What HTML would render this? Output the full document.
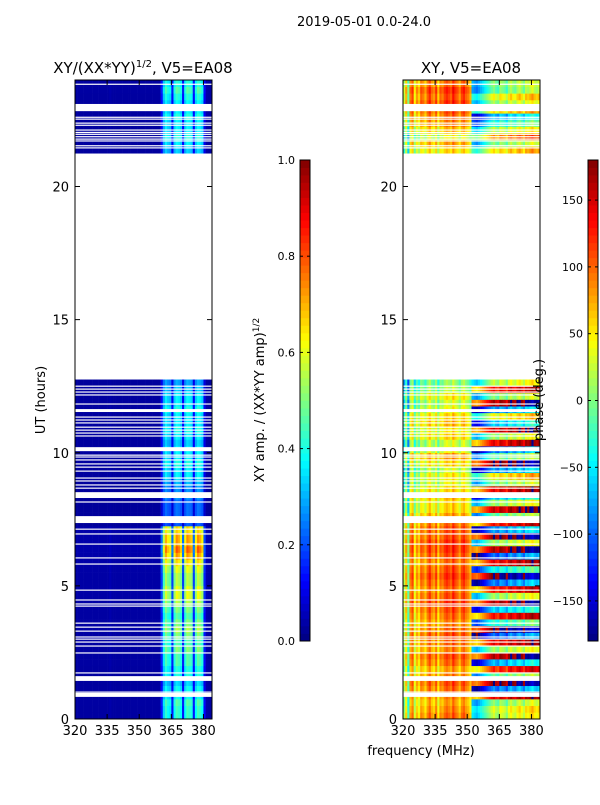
<!DOCTYPE html>
<html><head><meta charset="utf-8">
<style>
html,body{margin:0;padding:0;background:#fff;}
body{width:600px;height:800px;overflow:hidden;font-family:"Liberation Sans","DejaVu Sans",sans-serif;}
svg text{font-family:"DejaVu Sans","Liberation Sans",sans-serif;}
</style></head>
<body>
<svg id="chart" width="600" height="800" xmlns="http://www.w3.org/2000/svg">
<g id="layer"></g>
<text x="364" y="26" font-size="13" text-anchor="middle">2019-05-01 0.0-24.0</text>
<text x="143" y="73" font-size="15" text-anchor="middle">XY/(XX*YY)<tspan font-size="10" dy="-6">1/2</tspan><tspan dy="6">, V5=EA08</tspan></text>
<text x="471" y="73" font-size="15" text-anchor="middle">XY, V5=EA08</text>
<text transform="translate(45,400) rotate(-90)" font-size="13" text-anchor="middle">UT (hours)</text>
<text x="421" y="755" font-size="13" text-anchor="middle">frequency (MHz)</text>
<text transform="translate(264,400) rotate(-90)" font-size="13" text-anchor="middle">XY amp. / (XX*YY amp)<tspan font-size="9" dy="-5">1/2</tspan></text>
<text transform="translate(543,400) rotate(-90)" font-size="13" text-anchor="middle">phase (deg.)</text>
</svg>
<script>
// ---- data ----
const freqMin = 320, freqMax = 384, chanWidth = 1; // 64 channels
const rowHours = 0.25;
const rowAmp = [0.42,0.42,0.45,0.38,0.38,0.33,0.4,0.4,0.45,0.45,0.5,0.45,0.5,0.55,0.5,0.45,0.5,0.55,0.6,0.6,0.55,0.55,0.6,0.65,0.72,0.78,0.72,0.72,0.66,0.2,0.22,0.22,0.22,0.26,0.26,0.3,0.36,0.36,0.4,0.36,0.36,0.32,0.36,0.4,0.36,0.36,0.4,0.36,0.36,0.32,0.28,
null,null,null,null,null,null,null,null,null,null,null,null,null,null,null,null,null,null,null,null,null,null,null,null,null,null,null,null,null,null,null,null,null,null,
0.32,0.36,0.4,0.36,0.36,0.4,0.36,0.36,0.4,0.45,0.4];
const bandProfile = [0.03,0.03,0.03,0.03,0.03,0.03,0.03,0.03,0.03,0.03,0.03,0.03,0.03,0.03,0.03,0.03,0.05,0.03,0.03,0.03,
0.03,0.03,0.03,0.03,0.03,0.03,0.03,0.03,0.03,0.03,0.03,0.03,0.03,0.03,0.03,0.03,0.03,0.03,0.03,0.03,
0.3,0.75,0.95,0.85,0.8,0.3,0.85,1,0.95,0.85,0.3,0.85,1,0.95,0.9,0.3,0.85,1,0.95,0.85,0.25,0.05,0.03,0.03];
const rowPhaseLow = [80,70,60,70,80,90,70,60,80,90,70,80,90,80,70,80,90,100,90,80,90,100,90,80,90,100,100,90,90,80,60,40,40,50,40,20,30,10,40,60,20,10,40,30,50,40,20,10,30,0,-10,
0,0,0,0,0,0,0,0,0,0,0,0,0,0,0,0,0,0,0,0,0,0,0,0,0,0,0,0,0,0,0,0,0,0,
40,60,20,50,70,80,90,100,90,100,80];
const rowPhaseHigh = [-10,0,-30,110,-120,140,-40,90,-100,130,-20,110,-130,150,-60,100,-90,130,-20,100,-120,150,-70,110,-130,130,-20,140,-110,100,-40,120,-20,-90,110,-30,20,-110,140,-40,-120,110,-20,120,-90,10,-110,130,-30,100,-10,
0,0,0,0,0,0,0,0,0,0,0,0,0,0,0,0,0,0,0,0,0,0,0,0,0,0,0,0,0,0,0,0,0,0,
20,-30,50,-10,-60,-100,20,-20,10,-40,-30];
const chanPhaseOffset = [-70,-20,-100,0,20,-50,-10,-30,10,0,-20,10,30,0,-10,20,-30,10,0,20,
30,20,10,40,20,10,-10,20,30,10,0,-20,-40,-50,-60,-50,-40,-30,-20,-10,
0,10,20,0,-10,20,10,0,-20,10,20,0,-10,10,20,0,-20,10,0,10,20,0,-10,0];
const bigGaps = [[0.83,0.98],[1.43,1.61],[7.36,7.62],[8.3,8.52],[10.06,10.21],[11.53,11.64],[12.77,21.2],[22.83,23.1]];
const thinGaps = [1.01,1.73,2.48,2.74,2.89,3.0,3.08,3.3,3.45,3.6,4.24,4.32,4.47,4.84,5.82,6.05,6.57,6.95,7.13,
8.15,8.67,8.79,8.94,9.05,9.31,9.46,9.58,9.73,9.84,9.91,10.63,10.74,10.85,10.96,11.12,11.23,11.34,11.83,12.17,12.28,12.39,12.5,
21.45,21.53,21.71,21.78,21.87,21.96,22.03,22.12,22.3,22.38,22.53,22.6,23.84];
const yTicks = [0,5,10,15,20];
const xTicks = [320,335,350,365,380];
const ampTicks = [0.0,0.2,0.4,0.6,0.8,1.0];
const phaseTicks = [-150,-100,-50,0,50,100,150];

// ---- scales ----
const NS='http://www.w3.org/2000/svg';
const yTop=80, yBot=719;
const Y = h => yBot - h*(yBot-yTop)/24;
const panels = [{x0:75,x1:212,name:'amp'},{x0:403,x1:540,name:'phase'}];
const X = (p,f) => p.x0 + (f-freqMin)*(p.x1-p.x0)/(freqMax-freqMin);
function jet(v){v=Math.max(0,Math.min(1,v));
  const r=Math.max(0,Math.min(1,1.5-Math.abs(4*v-3))),g=Math.max(0,Math.min(1,1.5-Math.abs(4*v-2))),b=Math.max(0,Math.min(1,1.5-Math.abs(4*v-1)));
  return `rgb(${Math.round(r*255)},${Math.round(g*255)},${Math.round(b*255)})`;}
const layer=document.getElementById('layer');
function mk(tag,attrs,parent){const e=document.createElementNS(NS,tag);for(const k in attrs)e.setAttribute(k,attrs[k]);(parent||layer).appendChild(e);return e;}

panels.forEach(p=>{
  const g=mk('g',{});
  
  
  const nCh=bandProfile.length;
  rowAmp.forEach((a,i)=>{
    if(a===null) return;
    const yt=Y((i+1)*rowHours), yb=Y(i*rowHours);
    for(let c=0;c<nCh;c++){
      const f=freqMin+c*chanWidth;
      let v;
      if(p.name==='amp'){ v = 0.02 + a*bandProfile[c]; }
      else {
        let ph = c<32 ? rowPhaseLow[i]+chanPhaseOffset[c] : rowPhaseHigh[i]+chanPhaseOffset[c]+(c-32)*2;
        ph = ((ph+180)%360+360)%360;
        v = ph/360;
      }
      const r=mk('rect',{x:X(p,f).toFixed(2),y:yt.toFixed(2),width:(X(p,f+chanWidth)-X(p,f)+0.3).toFixed(2),height:(yb-yt+0.3).toFixed(2),fill:jet(v)},g);
      
      
    }
  });
  bigGaps.forEach(gp=>{
    const r=mk('rect',{x:p.x0,y:Y(gp[1]),width:p.x1-p.x0,height:Y(gp[0])-Y(gp[1]),fill:'#fff'},g);
    
    
  });
  thinGaps.forEach(h=>{
    const r=mk('rect',{x:p.x0,y:Y(h)-0.6,width:p.x1-p.x0,height:1.2,fill:'#fff'},g);
    
    
  });
  const fr=mk('rect',{x:p.x0,y:yTop,width:p.x1-p.x0,height:yBot-yTop,fill:'none',stroke:'#000','stroke-width':1});
  
  
  yTicks.forEach(t=>{
    const y=Y(t);
    mk('line',{x1:p.x0,x2:p.x0+5,y1:y,y2:y,stroke:'#000'});
    mk('line',{x1:p.x1,x2:p.x1-5,y1:y,y2:y,stroke:'#000'});
    const tx=mk('text',{x:p.x0-6,y:y+5,'font-size':13,'text-anchor':'end'});
    tx.textContent=t;
    
    
  });
  xTicks.forEach(t=>{
    const x=X(p,t);
    mk('line',{x1:x,x2:x,y1:yBot,y2:yBot-5,stroke:'#000'});
    mk('line',{x1:x,x2:x,y1:yTop,y2:yTop+5,stroke:'#000'});
    const tx=mk('text',{x:x,y:yBot+16,'font-size':13,'text-anchor':'middle'});
    tx.textContent=t;
    
    
  });
});

// colorbars
const cbTop=160, cbBot=641;
[{x:300,name:'amp-colorbar',ticks:ampTicks,min:0,max:1,fmt:t=>t.toFixed(1)},
 {x:588,name:'phase-colorbar',ticks:phaseTicks,min:-180,max:180,fmt:t=>(t<0?'\u2212'+(-t):''+t)}].forEach(cb=>{
  const g=mk('g',{});
  
  
  const n=64;
  for(let k=0;k<n;k++){
    const y0=cbBot-(k+1)*(cbBot-cbTop)/n;
    mk('rect',{x:cb.x,y:y0.toFixed(2),width:10,height:((cbBot-cbTop)/n+0.4).toFixed(2),fill:jet((k+0.5)/n)},g);
  }
  mk('rect',{x:cb.x,y:cbTop,width:10,height:cbBot-cbTop,fill:'none',stroke:'#000'},g);
  cb.ticks.forEach(t=>{
    const y=cbBot-(t-cb.min)/(cb.max-cb.min)*(cbBot-cbTop);
    mk('line',{x1:cb.x,x2:cb.x+3,y1:y,y2:y,stroke:'#000'},g);
    mk('line',{x1:cb.x+10,x2:cb.x+7,y1:y,y2:y,stroke:'#000'},g);
    const tx=mk('text',{x:cb.x-5,y:y+4,'font-size':11,'text-anchor':'end'},g);
    tx.textContent=cb.fmt(t);
    
    
  });
});
</script>
</body></html>
